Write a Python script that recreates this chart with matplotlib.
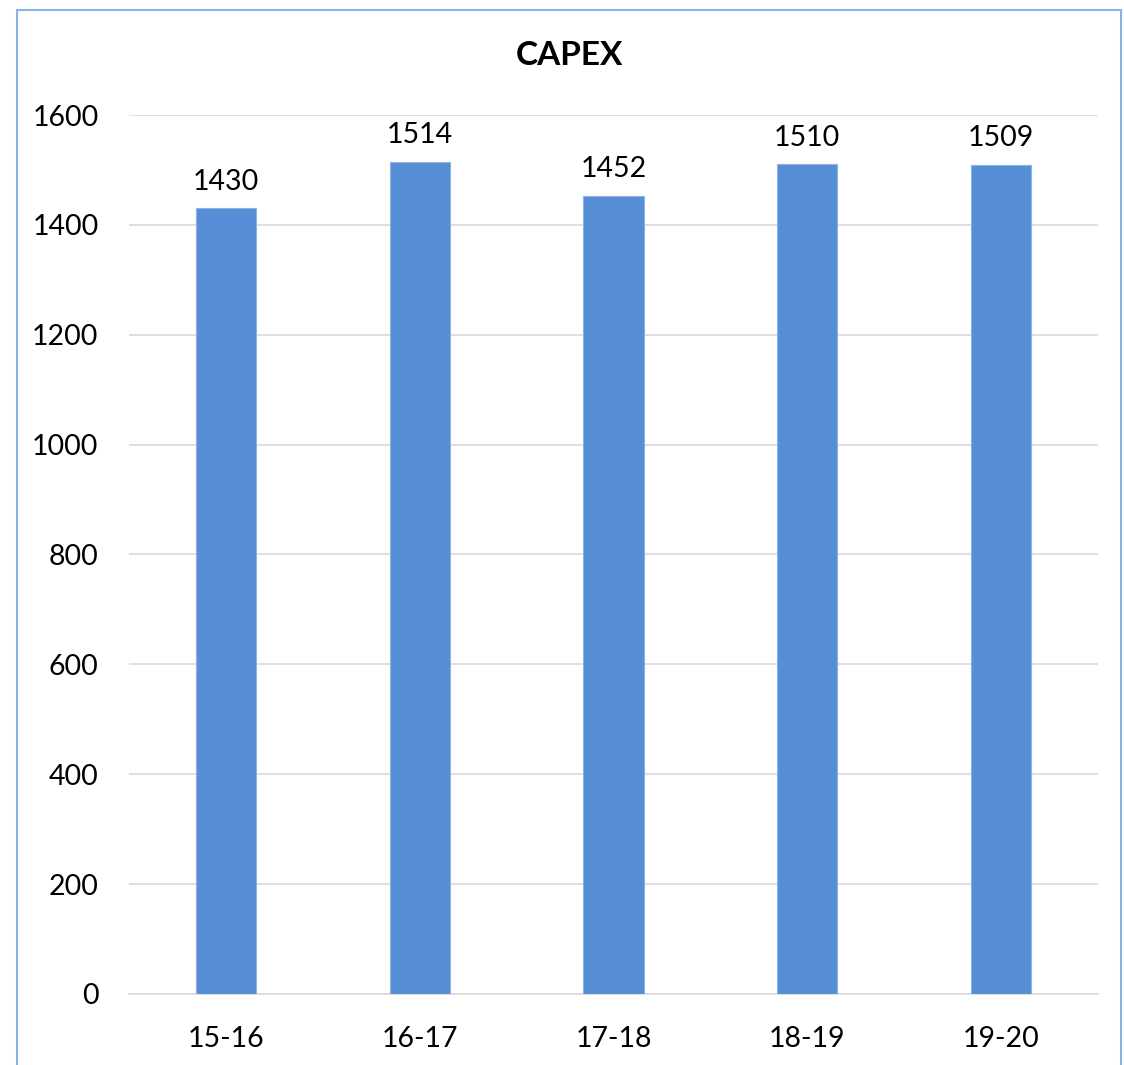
"""CAPEX bar chart by financial year."""

import matplotlib
matplotlib.use('Agg')
import matplotlib.pyplot as plt
from matplotlib.patches import Rectangle

YEARS = ['15-16', '16-17', '17-18', '18-19', '19-20']
CAPEX = [1430, 1514, 1452, 1510, 1509]
Y_TICKS = [0, 200, 400, 600, 800, 1000, 1200, 1400, 1600]

BAR_COLOR = '#558ED5'
GRID_COLOR = '#D9D9D9'

plt.rcParams['font.family'] = ['Lato', 'DejaVu Sans']

fig = plt.figure(figsize=(11.24, 10.65), dpi=100)
ax = fig.add_axes([0.1148, 0.0667, 0.8621, 0.8253])

x = range(len(YEARS))
bars = ax.bar(x, CAPEX, width=0.31, color=BAR_COLOR, edgecolor='#8DB3E2',
              linewidth=0.8, zorder=3)

for bar, val in zip(bars, CAPEX):
    ax.annotate(str(val), (bar.get_x() + bar.get_width() / 2, val),
                xytext=(0, 10), textcoords='offset points',
                ha='center', va='bottom', fontsize=20.5, color='black')

ax.set_xlim(-0.5, len(YEARS) - 0.5)
ax.set_ylim(0, 1600)
ax.set_yticks(Y_TICKS)
ax.set_xticks(list(x))
ax.set_xticklabels(YEARS)
ax.tick_params(axis='both', length=0, labelsize=20.5, colors='black')
ax.tick_params(axis='y', pad=22)
ax.tick_params(axis='x', pad=23)
ax.grid(True, axis='y', color=GRID_COLOR, linewidth=1.2, zorder=0)
for side in ['top', 'right', 'left']:
    ax.spines[side].set_visible(False)
ax.spines['bottom'].set_color(GRID_COLOR)
ax.spines['bottom'].set_linewidth(1.2)

fig.text(0.507, 0.948, 'CAPEX', ha='center', va='center',
         fontsize=24, fontweight='bold')

# light blue chart frame
fig.patches.append(Rectangle((17 / 1124, -0.01), 1104 / 1124, 1.01 - 10 / 1065,
                             transform=fig.transFigure, fill=False,
                             edgecolor='#8DB3E2', linewidth=1.5))

plt.savefig('out.png', dpi=100)
plt.close()
